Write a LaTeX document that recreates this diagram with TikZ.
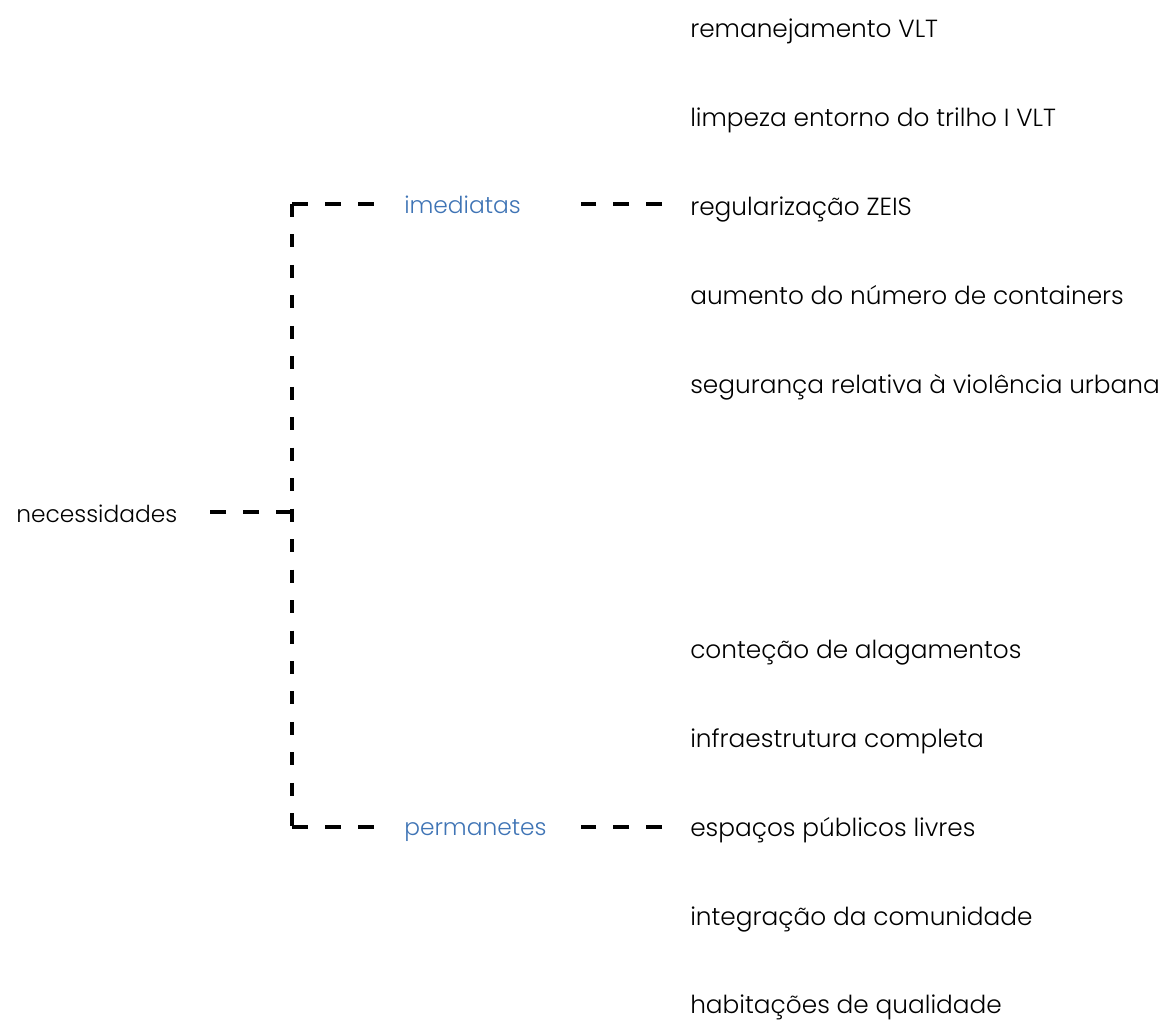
\documentclass[tikz,border=0pt]{standalone}
\usepackage{fontspec}
\setmainfont{Poppins Light}
\definecolor{azul}{HTML}{3F74B5}
\tikzset{
    item/.style={anchor=base west, inner sep=0pt, font=\fontsize{18.6}{22}\selectfont},
    raiz/.style={item, font=\fontsize{17.5}{21}\selectfont},
    ramo/.style={raiz, text=azul},
    link/.style={line width=2.5pt, dash pattern=on 12pt off 12.75pt},
    tronco/.style={line width=2.4pt, dash pattern=on 9.75pt off 13.1pt},
}
\begin{document}
\begin{tikzpicture}[x=0.75pt, y=-0.75pt]
    \useasboundingbox (0,0) rectangle (1162,1021);

    % raiz
    \node[raiz] (nec) at (16,522) {necessidades};
    \coordinate (juncao) at (292,512);
    \coordinate (cantoA) at (292,204);
    \coordinate (cantoB) at (292,827);

    % ramos
    \node[ramo] (imed) at (404,213) {imediatas};
    \node[ramo] (perm) at (404,835) {permanetes};

    % itens imediatos
    \node[item] (remanej) at (690,37)  {remanejamento VLT};
    \node[item] (limpeza) at (690,126) {limpeza entorno do trilho I VLT};
    \node[item] (regular) at (690,215) {regularização ZEIS};
    \node[item] (contain) at (690,304) {aumento do número de containers};
    \node[item] (seguran) at (690,393) {segurança relativa à violência urbana};

    % itens permanentes
    \node[item] (alagam)  at (690,658)  {conteção de alagamentos};
    \node[item] (infra)   at (690,747)  {infraestrutura completa};
    \node[item] (espacos) at (690,836)  {espaços públicos livres};
    \node[item] (integr)  at (690,925)  {integração da comunidade};
    \node[item] (habit)   at (690,1013) {habitações de qualidade};

    % conectores
    \draw[link, shorten >=24pt] (juncao) -- (juncao -| nec.east);
    \draw[tronco] (cantoA) -- (cantoB);
    \draw[link, shorten >=21.75pt] (cantoA) -- (cantoA -| imed.west);
    \draw[link, shorten >=21.75pt] (cantoB) -- (cantoB -| perm.west);
    \draw[link, shorten <=21pt, shorten >=45pt] (regular.west |- cantoA) -- (imed.east |- cantoA);
    \draw[link, shorten <=21pt, shorten >=25.5pt] (espacos.west |- cantoB) -- (perm.east |- cantoB);
\end{tikzpicture}
\end{document}
